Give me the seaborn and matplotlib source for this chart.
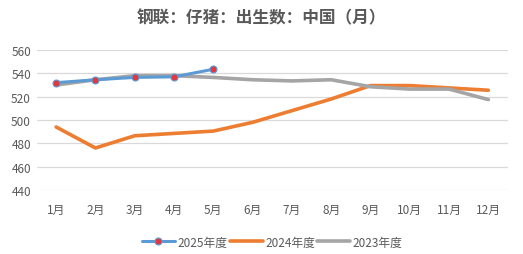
import matplotlib
matplotlib.use("Agg")
import matplotlib.pyplot as plt
import seaborn as sns
import pandas as pd
import numpy as np

months = ["1月", "2月", "3月", "4月", "5月", "6月", "7月", "8月", "9月", "10月", "11月", "12月"]
s2025 = [532, 534.5, 536.5, 537, 543.5]
s2024 = [494, 476, 486.5, 488.5, 490.5, 498, 508, 518, 529.5, 529.5, 527.5, 525.5]
s2023 = [530, 534.5, 538, 538, 536.5, 534.5, 533.5, 534.5, 528.5, 526.5, 526.5, 517.5]

sns.set_theme(style="white")
plt.rcParams['font.family'] = ['Noto Sans CJK SC', 'DejaVu Sans']

rows = []
for name, vals in [("2025年度", s2025), ("2024年度", s2024), ("2023年度", s2023)]:
    for i, v in enumerate(vals):
        rows.append({"x": i, "月": months[i], "值": v, "系列": name})
df = pd.DataFrame(rows)

fig = plt.figure(figsize=(5.23, 2.55), dpi=100)
ax = fig.add_axes([36.5/523, 1-191/255, (508-36.5)/523, 140/255])

palette = {"2025年度": "#5B9BD5", "2024年度": "#ED7D31", "2023年度": "#A5A5A5"}
order = ["2023年度", "2024年度", "2025年度"]
for name in order:
    sub = df[df["系列"] == name]
    if name == "2025年度":
        sns.lineplot(data=sub, x="x", y="值", ax=ax, color=palette[name], lw=2.2,
                     marker="o", markersize=5, markerfacecolor="#E0383E",
                     markeredgecolor="#5B9BD5", markeredgewidth=0.8, label=name, zorder=4)
    else:
        sns.lineplot(data=sub, x="x", y="值", ax=ax, color=palette[name], lw=2.6,
                     label=name, zorder=3 if name == "2023年度" else 2)

ax.set_xlim(-0.5, 11.5)
ax.set_ylim(440, 560)
ax.set_yticks(np.arange(440, 561, 20))
ax.set_xticks(range(12))
ax.set_xticklabels(months)
ax.yaxis.grid(True, color="#D9D9D9", lw=0.9)
ax.xaxis.grid(False)
for s in ax.spines.values():
    s.set_visible(False)
ax.tick_params(axis="both", labelsize=8.5, colors="#595959", length=0, pad=4)
ax.tick_params(axis="x", pad=9)
ax.set_xlabel("")
ax.set_ylabel("")

handles, labels = ax.get_legend_handles_labels()
hmap = dict(zip(labels, handles))
leg_order = ["2025年度", "2024年度", "2023年度"]
ax.legend([hmap[l] for l in leg_order], leg_order, loc="upper center",
          bbox_to_anchor=(0.5, -0.25), ncol=3, frameon=False, fontsize=8.5,
          handlelength=2.8, handletextpad=0.2, columnspacing=0.2,
          labelcolor="#595959")

fig.text(0.5, 1-18/255, "钢联：仔猪：出生数：中国（月）", ha="center", va="center",
         fontsize=12, fontweight="bold", color="#595959")

fig.savefig("out.png", dpi=100)
